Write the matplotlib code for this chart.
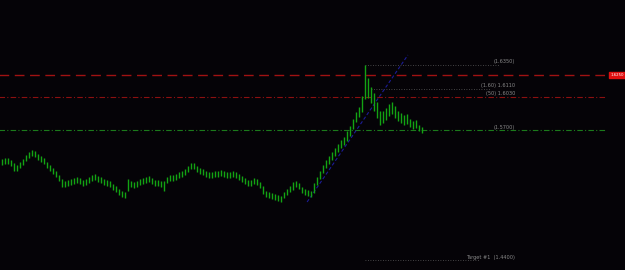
import numpy as np
import matplotlib.pyplot as plt

# bar highs / lows (price)
highs = [1.541, 1.542, 1.542, 1.540, 1.537, 1.535, 1.538, 1.541, 1.545, 1.548,
         1.550, 1.549, 1.546, 1.544, 1.542, 1.538, 1.535, 1.532, 1.529, 1.525,
         1.521, 1.519, 1.520, 1.521, 1.522, 1.523, 1.522, 1.520, 1.521, 1.523,
         1.525, 1.526, 1.524, 1.523, 1.521, 1.520, 1.519, 1.516, 1.514, 1.511,
         1.509, 1.508, 1.521, 1.519, 1.518, 1.519, 1.521, 1.522, 1.523, 1.524,
         1.522, 1.520, 1.520, 1.519, 1.519, 1.523, 1.525, 1.525, 1.526, 1.528,
         1.529, 1.531, 1.534, 1.537, 1.537, 1.534, 1.532, 1.531, 1.529, 1.528,
         1.528, 1.529, 1.529, 1.530, 1.529, 1.528, 1.528, 1.529, 1.528, 1.526,
         1.524, 1.522, 1.520, 1.520, 1.522, 1.521, 1.518, 1.514, 1.509, 1.508,
         1.507, 1.506, 1.505, 1.504, 1.508, 1.511, 1.514, 1.518, 1.519, 1.517,
         1.513, 1.511, 1.510, 1.509, 1.517, 1.523, 1.529, 1.535, 1.540, 1.544,
         1.548, 1.552, 1.556, 1.560, 1.563, 1.569, 1.574, 1.581, 1.588, 1.593,
         1.604, 1.635, 1.622, 1.613, 1.607, 1.598, 1.589, 1.589, 1.592, 1.596,
         1.598, 1.594, 1.589, 1.587, 1.585, 1.586, 1.581, 1.579, 1.580, 1.575,
         1.573]
lows = [1.535, 1.536, 1.536, 1.534, 1.529, 1.529, 1.532, 1.535, 1.539, 1.542,
        1.544, 1.543, 1.540, 1.538, 1.536, 1.532, 1.529, 1.526, 1.523, 1.519,
        1.513, 1.513, 1.514, 1.515, 1.516, 1.517, 1.516, 1.514, 1.515, 1.517,
        1.519, 1.520, 1.518, 1.517, 1.515, 1.514, 1.513, 1.510, 1.508, 1.505,
        1.503, 1.502, 1.509, 1.513, 1.512, 1.513, 1.515, 1.516, 1.517, 1.518,
        1.516, 1.514, 1.514, 1.513, 1.509, 1.517, 1.519, 1.519, 1.520, 1.522,
        1.523, 1.525, 1.528, 1.531, 1.531, 1.528, 1.526, 1.525, 1.523, 1.522,
        1.522, 1.523, 1.523, 1.524, 1.523, 1.522, 1.522, 1.523, 1.522, 1.520,
        1.518, 1.516, 1.514, 1.514, 1.516, 1.515, 1.512, 1.506, 1.503, 1.502,
        1.501, 1.500, 1.499, 1.498, 1.502, 1.505, 1.508, 1.510, 1.513, 1.511,
        1.507, 1.505, 1.504, 1.503, 1.507, 1.515, 1.521, 1.527, 1.532, 1.536,
        1.540, 1.544, 1.548, 1.552, 1.555, 1.559, 1.564, 1.571, 1.578, 1.583,
        1.588, 1.601, 1.602, 1.597, 1.589, 1.582, 1.575, 1.577, 1.580, 1.584,
        1.586, 1.582, 1.579, 1.577, 1.575, 1.576, 1.573, 1.571, 1.572, 1.569,
        1.567]

current_price = 1.6250
level_red = 1.6030
level_green = 1.5700
level_mid = 1.6110
target_price = 1.4400
trend_start = (101.7, 1.498)
trend_end = (135.3, 1.645)

bg = '#050307'
fig = plt.figure(figsize=(6.25, 2.7), dpi=100, facecolor=bg)
ax = fig.add_axes([0, 0, 1, 1])
ax.set_facecolor(bg)
ax.set_xlim(-2 / 3, 623 / 3)
ax.set_ylim(1.430, 1.700)
ax.axis('off')

x = np.arange(len(highs))
ax.vlines(x, lows, highs, color='#13a313', linewidth=1.0, zorder=3)

peak_i = int(np.argmax(highs))
right = 201

# horizontal levels
ax.hlines(current_price, -1, right, color='#a01212', linewidth=1.0,
          linestyles=(0, (7, 4)), zorder=2)
ax.hlines(level_red, -1, right, color='#8c1010', linewidth=0.8,
          linestyles=(0, (5, 2, 1, 2)), zorder=2)
ax.hlines(level_green, -1, right, color='#1b7a1b', linewidth=0.8,
          linestyles=(0, (5, 2, 1, 2)), zorder=2)
ax.hlines(highs[peak_i], peak_i, 166, color='#5a5a5a', linewidth=0.6,
          linestyles=(0, (1, 2)), zorder=2)
ax.hlines(level_mid, peak_i + 2, 163, color='#5a5a5a', linewidth=0.6,
          linestyles=(0, (1, 2)), zorder=2)
ax.hlines(target_price, peak_i, 159, color='#5a5a5a', linewidth=0.6,
          linestyles=(0, (1, 2)), zorder=2)

# trend line
ax.plot([trend_start[0], trend_end[0]], [trend_start[1], trend_end[1]],
        color='#1c1c96', linewidth=0.8, linestyle=(0, (3, 2)), zorder=2)

lab = dict(color='#8a8a8a', fontsize=3.6, ha='right', va='bottom', zorder=4)
ax.text(171, highs[peak_i] + 0.0005, '(%.4f)' % highs[peak_i], **lab)
ax.text(171, level_mid + 0.0005, '(1.60) %.4f' % level_mid, **lab)
ax.text(171, level_red + 0.0012, '(50) %.4f' % level_red, **lab)
ax.text(171, level_green + 0.0005, '(%.4f)' % level_green, **lab)
ax.text(171, target_price + 0.0005, 'Target #1  (%.4f)' % target_price, **lab)

# current price box
ax.add_patch(plt.Rectangle((202.3, current_price - 0.0032), 6, 0.0064,
                           color='#e01010', zorder=5, clip_on=False))
ax.text(205.1, current_price, '%.4f' % current_price, color='white',
        fontsize=2.8, ha='center', va='center', zorder=6)

fig.savefig('out.png', dpi=100, facecolor=bg)
